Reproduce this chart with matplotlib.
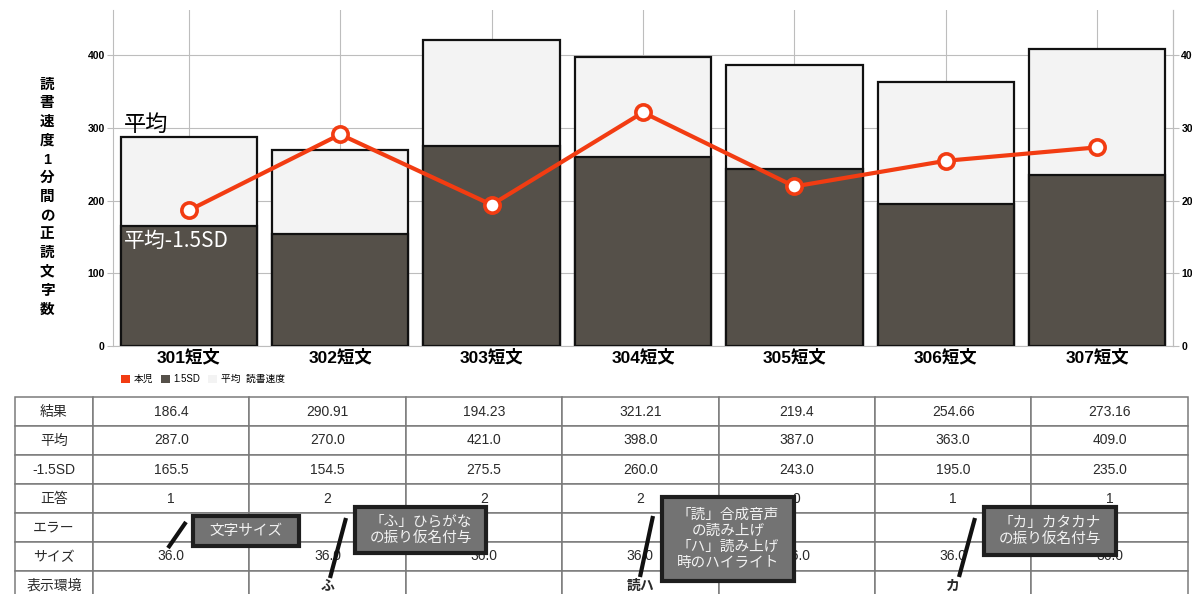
import matplotlib
matplotlib.use("Agg")
import matplotlib.pyplot as plt
from matplotlib.patches import Patch, Rectangle

plt.rcParams['font.family'] = ['Liberation Sans', 'Noto Sans CJK JP', 'DejaVu Sans']
JP = ['Noto Sans CJK JP', 'DejaVu Sans']

# --- data ---
categories = ["301短文", "302短文", "303短文", "304短文", "305短文", "306短文", "307短文"]
result = [186.4, 290.91, 194.23, 321.21, 219.4, 254.66, 273.16]
mean = [287.0, 270.0, 421.0, 398.0, 387.0, 363.0, 409.0]
minus_sd = [165.5, 154.5, 275.5, 260.0, 243.0, 195.0, 235.0]
correct = [1, 2, 2, 2, 0, 1, 1]
errors = ["", "", "", "", "", "", ""]
sizes = [36.0, 36.0, 36.0, 36.0, 36.0, 36.0, 36.0]
display_env = ["", "ふ", "", "読ハ", "", "カ", ""]
row_labels = ["結果", "平均", "-1.5SD", "正答", "エラー", "サイズ", "表示環境"]

RED = '#f23c12'
DARK = '#555049'
LIGHT = '#f3f3f3'
GRID = '#bdbdbd'

fig = plt.figure(figsize=(11.92, 5.94), dpi=100)
ax = fig.add_axes([113 / 1192, 1 - 346 / 594, 1060 / 1192, 336 / 594])

x = list(range(len(categories)))
ax.bar(x, mean, width=0.9, color=LIGHT, edgecolor='#111111', linewidth=1.6, zorder=2)
ax.bar(x, minus_sd, width=0.9, color=DARK, edgecolor='#111111', linewidth=1.6, zorder=3)
ax.plot(x, result, color=RED, linewidth=3, marker='o', markersize=11,
        markerfacecolor='white', markeredgecolor=RED, markeredgewidth=2.6, zorder=5)

ax.set_xlim(-0.5, len(categories) - 0.5)
ax.set_ylim(0, 462)
ax.set_yticks([0, 100, 200, 300, 400])
ax.set_xticks(x)
ax.set_xticklabels(categories, fontsize=12.5, fontweight='bold')
ax.tick_params(axis='x', length=0, pad=2)
ax.tick_params(axis='y', labelsize=7.5, length=4, color=GRID, pad=2)
for lbl in ax.get_yticklabels():
    lbl.set_fontweight('bold')
ax.grid(True, color=GRID, linewidth=0.8, zorder=0)
ax.set_axisbelow(True)
ax.spines['top'].set_visible(False)
for s in ['left', 'right', 'bottom']:
    ax.spines[s].set_color(GRID)

ax_r = ax.twinx()
ax_r.set_ylim(ax.get_ylim())
ax_r.set_yticks([0, 100, 200, 300, 400])
ax_r.tick_params(axis='y', labelsize=7.5, length=4, color=GRID, pad=2)
for lbl in ax_r.get_yticklabels():
    lbl.set_fontweight('bold')
for s in ['top', 'left', 'bottom']:
    ax_r.spines[s].set_visible(False)
ax_r.spines['right'].set_color(GRID)

ax.text(-0.43, 289, "平均", fontsize=16, color='black', ha='left', va='bottom',
        family=JP, zorder=6)
ax.text(-0.43, 160, "平均-1.5SD", fontsize=15, color='white', ha='left', va='top',
        family=JP, zorder=6)

ylabel = "読書速度1分間の正読文字数"
fig.text(47 / 1192, 1 - 197 / 594, "\n".join(ylabel), fontsize=10.5, fontweight='bold',
         ha='center', va='center', linespacing=1.43)

handles = [Patch(facecolor=RED, edgecolor='none'),
           Patch(facecolor=DARK, edgecolor='none'),
           Patch(facecolor=LIGHT, edgecolor='none')]
fig.legend(handles, ["本児", "1.5SD", "平均  読書速度"], loc='center left',
           bbox_to_anchor=(116 / 1192, 1 - 379 / 594), ncol=3, frameon=False,
           fontsize=7, handlelength=0.9, handleheight=0.9, handletextpad=0.4,
           columnspacing=0.8, borderpad=0)

# --- table ---
ov = fig.add_axes([0, 0, 1, 1], zorder=10)
ov.set_xlim(0, 1192)
ov.set_ylim(594, 0)
ov.axis('off')

rows = [
    [f"{v}" for v in result],
    [f"{v:.1f}" for v in mean],
    [f"{v:.1f}" for v in minus_sd],
    [str(v) for v in correct],
    errors,
    [f"{v:.1f}" for v in sizes],
    display_env,
]
cell_text = [[lab] + r for lab, r in zip(row_labels, rows)]
col_w = [78] + [156.4] * len(categories)
tot = sum(col_w)
tab = ov.table(cellText=cell_text, colWidths=[w / tot for w in col_w], cellLoc='center',
               bbox=[15 / 1192, 1 - 600 / 594, tot / 1192, 203 / 594])
tab.auto_set_font_size(False)
tab.set_fontsize(10)
for (r, c), cell in tab.get_celld().items():
    cell.set_edgecolor('#7a7a7a')
    cell.set_linewidth(1.1)
    cell.get_text().set_color('#2a2a2a')
    if r == 6 and c > 0:
        cell.get_text().set_fontweight('bold')

# --- annotations: (text, box left, top, right, bottom), pointer line ---
notes = [
    ("文字サイズ", (193, 516, 299, 546), ((168, 548), (186, 522))),
    ("「ふ」ひらがな\nの振り仮名付与", (355, 507, 486, 553), ((330, 578), (346, 518))),
    ("「読」合成音声\nの読み上げ\n「ハ」読み上げ\n時のハイライト", (662, 497, 794, 581), ((640, 577), (653, 516))),
    ("「カ」カタカナ\nの振り仮名付与", (984, 507, 1116, 555), ((959, 577), (975, 518))),
]
for txt, (l, t, r, b), ((x0, y0), (x1, y1)) in notes:
    ov.plot([x0, x1], [y0, y1], color='#111111', linewidth=3, solid_capstyle='butt', zorder=11)
    ov.add_patch(Rectangle((l, t), r - l, b - t, facecolor='#737373', edgecolor='#1e1e1e',
                           linewidth=3, zorder=12))
    ov.text((l + r) / 2, (t + b) / 2, txt, ha='center', va='center', fontsize=10.5,
            color='#f2f2f2', linespacing=1.2, family=JP, zorder=13)

fig.savefig("out.png", dpi=100)
